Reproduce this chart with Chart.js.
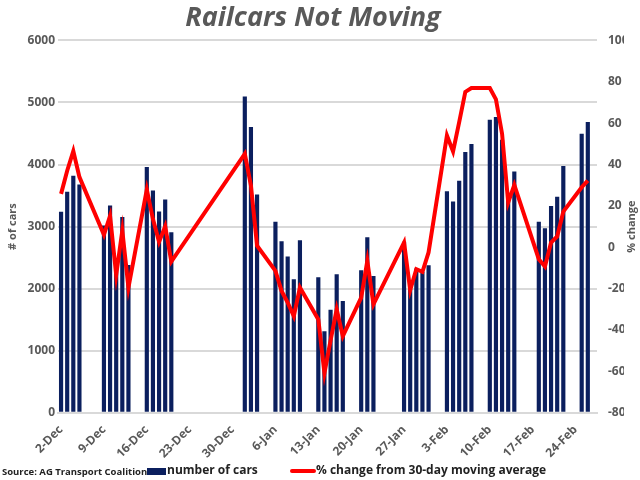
<!DOCTYPE html>
<html><head><meta charset="utf-8">
<script src="https://cdn.jsdelivr.net/npm/chart.js@4/dist/chart.umd.min.js"></script>
<style>body{margin:0;background:#fff}#w{width:640px;height:480px}</style></head>
<body><div id="w"><canvas id="c"></canvas></div>
<script>
const dayCount = 88;
const barIndex = [0,1,2,3, 7,8,9,10,11, 14,15,16,17,18, 30,31,32, 35,36,37,38,39, 42,43,44,45,46, 49,50,51, 56,57,58,59,60, 63,64,65,66,67, 70,71,72,73,74, 78,79,80,81,82, 85,86];
const carsValues = [3239,3560,3817,3678, 3019,3340,2400,3153,2382, 3961,3581,3244,3437,2907, 5096,4604,3517, 3078,2762,2516,2152,2778, 2184,1312,1660,2232,1799, 2297,2827,2205, 2757,1991,2323,2270,2377, 3571,3405,3737,4202,4331, 4722,4764,4400,3437,3887, 3078,2971,3330,3480,3977, 4497,4684];
const pctValues = [25.8,37,46.5,33.9, 6.0,15.2,-13.4,8.0,-19.5, 27.9,13.6,2.6,10.1,-6.9, 45.2,29.8,0.7, -11.4,-21.1,-26.8,-33.3,-19.5, -34.9,-60.8,-45,-30,-43, -24.4,-6.6,-27.6, 2.3,-20.7,-10.6,-11.9,-2.5, 54,46.3,60.5,75.1,77, 77,71.5,54.9,21.7,30.1, -5.8,-9.3,2.3,5.2,17.2, 29,32.2];
const monthShort = ["Jan","Feb","Mar","Apr","May","Jun","Jul","Aug","Sep","Oct","Nov","Dec"];

const labels = [];
const d0 = new Date(2019,11,2);
for (let i=0;i<dayCount;i++){const d=new Date(d0);d.setDate(d0.getDate()+i);labels.push(d.getDate()+"-"+monthShort[d.getMonth()]);}
const bars = new Array(dayCount).fill(null), line = new Array(dayCount).fill(null);
barIndex.forEach((k,i)=>{bars[k]=carsValues[i];line[k]=pctValues[i];});

const grey='#595959', F='"Open Sans", sans-serif';
const extraPlugin={id:'extra',afterDraw(c){const x=c.ctx;x.save();
  x.textBaseline='middle';
  x.font='bold 9.5px '+F;x.fillStyle='#222';x.fillText('Source: AG Transport Coalition',2,472);
  x.font='bold 12px '+F;
  x.fillStyle='#0b1f5e';x.fillRect(147,468,19,7);x.fillStyle='#222';x.fillText('number of cars',167,471);
  x.strokeStyle='#ff0000';x.lineWidth=4;x.lineCap='round';x.beginPath();x.moveTo(292,471);x.lineTo(314,471);x.stroke();
  x.fillText('% change from 30-day moving average',316,471);
  const a=c.scales.y1;x.translate(632,(a.top+a.bottom)/2);x.rotate(-Math.PI/2);x.textAlign='center';x.fillStyle=grey;x.font='bold 11px '+F;x.fillText('% change',0,0);
  x.restore();}};
new Chart(document.getElementById('c'),{
  data:{labels,datasets:[
    {type:'line',label:'% change',data:line,yAxisID:'y1',borderColor:'#ff0000',borderWidth:4,pointRadius:0,spanGaps:true,tension:0,order:0},
    {type:'bar',label:'number of cars',data:bars,yAxisID:'y',backgroundColor:'#0b1f5e',barPercentage:0.68,categoryPercentage:1,order:1}
  ]},
  options:{responsive:true,maintainAspectRatio:false,animation:false,
    layout:{padding:{left:2,right:16,top:0,bottom:14}},
    plugins:{
      title:{display:true,text:'Railcars Not Moving',color:grey,font:{family:F,size:27,weight:'bold',style:'italic'},padding:{top:2,bottom:6}},
      legend:{display:false},tooltip:{enabled:false}},
    scales:{
      x:{grid:{display:false,drawTicks:true,tickLength:5,color:'#d9d9d9'},border:{color:'#d9d9d9',width:2},
        ticks:{autoSkip:false,maxRotation:45,minRotation:45,color:grey,padding:5,font:{family:F,size:12,weight:'bold'},
          callback(v,i){return i%7===0?labels[i]:'';}}},
      y:{position:'left',min:0,max:6000,ticks:{stepSize:1000,color:grey,font:{family:F,size:12,weight:'bold'},callback:v=>String(v)},
        grid:{color:'#d9d9d9',lineWidth:2,drawTicks:false},border:{display:false},
        title:{display:true,text:'# of cars',color:grey,font:{family:F,size:11,weight:'bold'}},
        afterFit(s){s.width=56;}},
      y1:{position:'right',min:-80,max:100,ticks:{stepSize:20,color:grey,font:{family:F,size:12,weight:'bold'}},
        grid:{display:false},border:{display:false},
        afterFit(s){s.width=27;}}
    }},
  plugins:[extraPlugin]
});
</script></body></html>
